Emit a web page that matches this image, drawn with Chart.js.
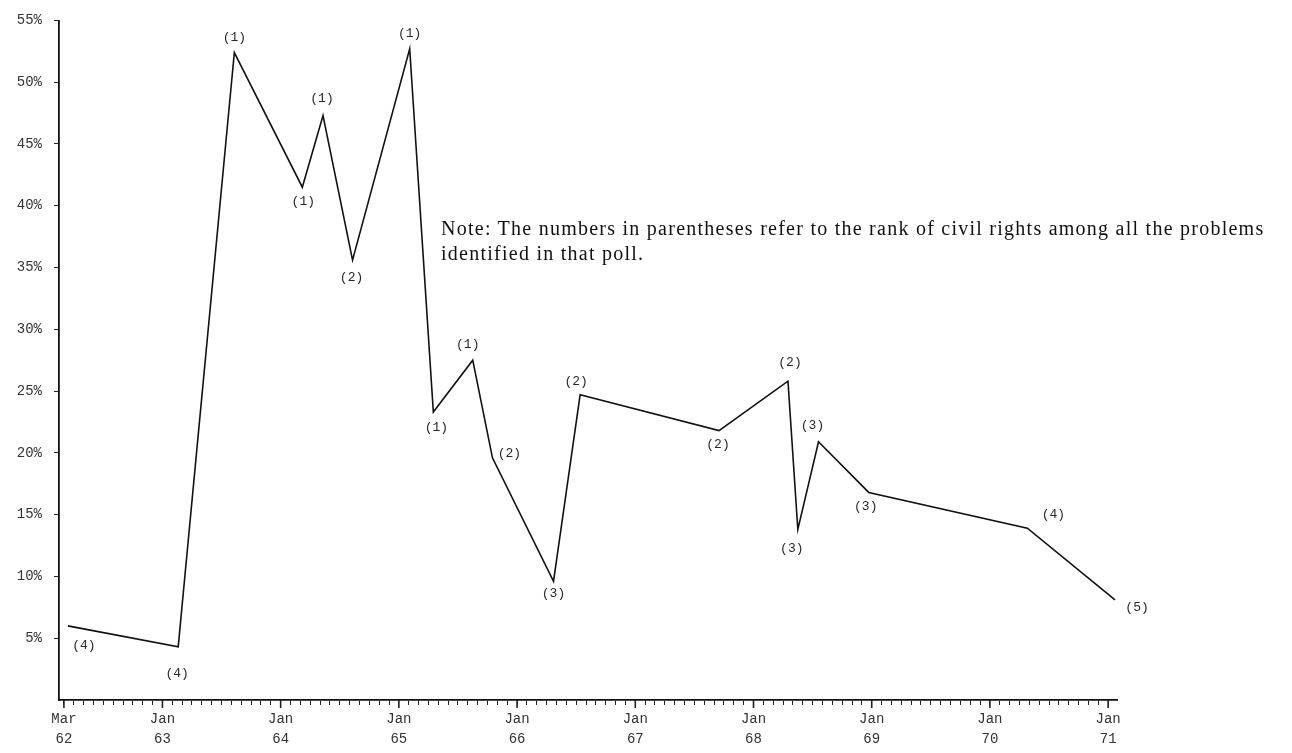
<!DOCTYPE html>
<html>
<head>
<meta charset="utf-8">
<script src="https://cdn.jsdelivr.net/npm/chart.js@4"></script>
<style>
    html, body { margin: 0; padding: 0; background: #fff; }
    #wrap { position: relative; width: 1292px; height: 753px; }
    #note {
        position: absolute; left: 441px; top: 216px;
        font-family: "Liberation Serif", "Times New Roman", serif;
        font-size: 20px; line-height: 25px; letter-spacing: 1.25px;
        color: #111; white-space: nowrap;
    }
</style>
</head>
<body>
<div id="wrap">
    <canvas id="rankChart" width="1292" height="753"></canvas>
    <div id="note">Note: The numbers in parentheses refer to the rank of civil rights among all the problems<br>identified in that poll.</div>
</div>
<script>
// months counted from Jan 1962 (= 0)
const pollMonths = [2.4, 13.6, 19.3, 26.2, 28.3, 31.3, 37.1, 39.5, 43.5, 45.5, 51.7, 54.4, 68.5, 75.5, 76.5, 78.6, 83.7, 99.8, 108.7];
const pollPercent = [6.0, 4.3, 52.4, 41.5, 47.3, 35.6, 52.7, 23.3, 27.5, 19.6, 9.6, 24.7, 21.8, 25.8, 13.8, 20.9, 16.8, 13.9, 8.1];
const pollRank = [4, 4, 1, 1, 1, 2, 1, 1, 1, 2, 3, 2, 2, 2, 3, 3, 3, 4, 5];

const xLabelMonths = [2, 12, 24, 36, 48, 60, 72, 84, 96, 108];
const xLabelText = [['Mar', '62'], ['Jan', '63'], ['Jan', '64'], ['Jan', '65'], ['Jan', '66'],
                    ['Jan', '67'], ['Jan', '68'], ['Jan', '69'], ['Jan', '70'], ['Jan', '71']];
const yTicks = [5, 10, 15, 20, 25, 30, 35, 40, 45, 50, 55];

// where each rank label sits relative to its point (px)
const rankOffset = [[16, 20], [-1, 27], [0, -15], [1, 14], [-1, -17], [-1, 17], [0, -15], [3, 15],
                    [-5, -16], [17, -4], [0, 12], [-4, -13], [-1, 14], [2, -19], [-6, 19], [-6, -16],
                    [-3, 14], [26, -14], [22, 8]];

const monoFont = '"Liberation Mono", "DejaVu Sans Mono", monospace';

const rankLabels = {
    id: 'rankLabels',
    afterDatasetsDraw(chart) {
        const ctx = chart.ctx;
        const xs = chart.scales.x, ys = chart.scales.y;
        ctx.save();
        ctx.font = '13px ' + monoFont;
        ctx.fillStyle = '#2a2a2a';
        ctx.textAlign = 'center';
        ctx.textBaseline = 'middle';
        pollRank.forEach((r, i) => {
            const px = xs.getPixelForValue(pollMonths[i]) + rankOffset[i][0];
            const py = ys.getPixelForValue(pollPercent[i]) + rankOffset[i][1];
            ctx.fillText('(' + r + ')', px, py);
        });
        // longer marks at the labelled months
        ctx.strokeStyle = '#222';
        ctx.lineWidth = 1.6;
        xLabelMonths.forEach(m => {
            const px = xs.getPixelForValue(m);
            ctx.beginPath();
            ctx.moveTo(px, xs.top);
            ctx.lineTo(px, xs.top + 8);
            ctx.stroke();
        });
        ctx.restore();
    }
};

new Chart(document.getElementById('rankChart'), {
    type: 'line',
    data: {
        datasets: [{
            data: pollMonths.map((m, i) => ({ x: m, y: pollPercent[i] })),
            borderColor: '#111',
            borderWidth: 1.6,
            pointRadius: 0,
            tension: 0,
            fill: false
        }]
    },
    options: {
        responsive: false,
        animation: false,
        layout: { padding: { top: 14, right: 175, left: 0, bottom: 0 } },
        plugins: { legend: { display: false }, tooltip: { enabled: false } },
        scales: {
            x: {
                type: 'linear',
                min: 1.5,
                max: 108.9,
                afterBuildTicks: function(scale) {
                    const t = [];
                    for (let m = 2; m <= 108; m++) t.push({ value: m });
                    scale.ticks = t;
                },
                afterFit: function(scale) { scale.height = 53; },
                grid: {
                    drawOnChartArea: false,
                    tickLength: 5,
                    color: '#222'
                },
                border: { display: true, color: '#111', width: 1.8 },
                ticks: {
                    autoSkip: false,
                    maxRotation: 0,
                    padding: 4,
                    color: '#333',
                    font: { family: monoFont, size: 14, lineHeight: 1.45 },
                    callback: function(value) {
                        const k = xLabelMonths.indexOf(value);
                        return k >= 0 ? xLabelText[k] : '';
                    }
                }
            },
            y: {
                min: 0,
                max: 55,
                afterBuildTicks: function(scale) {
                    scale.ticks = yTicks.map(v => ({ value: v }));
                },
                afterFit: function(scale) { scale.width = 59; },
                grid: { drawOnChartArea: false, tickLength: 5, color: '#222' },
                border: { display: true, color: '#111', width: 1.8 },
                ticks: {
                    padding: 12,
                    color: '#333',
                    font: { family: monoFont, size: 14 },
                    callback: v => v + '%'
                }
            }
        }
    },
    plugins: [rankLabels]
});
</script>
</body>
</html>
